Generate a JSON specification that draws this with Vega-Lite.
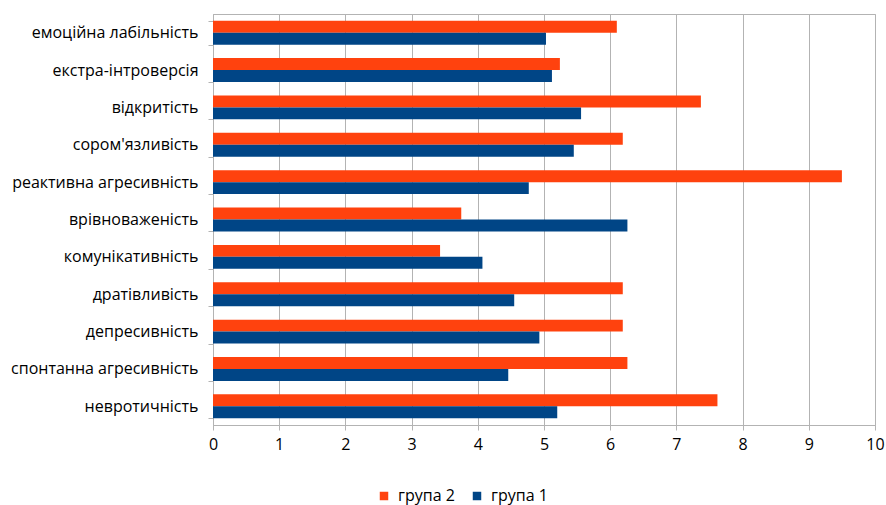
{
  "$schema": "https://vega.github.io/schema/vega-lite/v6.json",
  "width": 662,
  "height": 411,
  "autosize": {"type": "none"},
  "padding": {"left": 213, "top": 14, "right": 11, "bottom": 80},
  "background": "white",
  "config": {
    "view": {"stroke": "#b3b3b3", "strokeWidth": 1},
    "font": "Open Sans"
  },
  "data": {
    "values": [
      {"cat": "емоційна лабільність", "group": "група 2", "value": 6.10},
      {"cat": "емоційна лабільність", "group": "група 1", "value": 5.03},
      {"cat": "екстра-інтроверсія", "group": "група 2", "value": 5.24},
      {"cat": "екстра-інтроверсія", "group": "група 1", "value": 5.12},
      {"cat": "відкритість", "group": "група 2", "value": 7.37},
      {"cat": "відкритість", "group": "група 1", "value": 5.56},
      {"cat": "сором'язливість ", "group": "група 2", "value": 6.19},
      {"cat": "сором'язливість ", "group": "група 1", "value": 5.45},
      {"cat": "реактивна агресивність", "group": "група 2", "value": 9.5},
      {"cat": "реактивна агресивність", "group": "група 1", "value": 4.77},
      {"cat": "врівноваженість", "group": "група 2", "value": 3.75},
      {"cat": "врівноваженість", "group": "група 1", "value": 6.26},
      {"cat": "комунікативність", "group": "група 2", "value": 3.43},
      {"cat": "комунікативність", "group": "група 1", "value": 4.07},
      {"cat": "дратівливість", "group": "група 2", "value": 6.19},
      {"cat": "дратівливість", "group": "група 1", "value": 4.55},
      {"cat": "депресивність", "group": "група 2", "value": 6.19},
      {"cat": "депресивність", "group": "група 1", "value": 4.93},
      {"cat": "спонтанна агресивність", "group": "група 2", "value": 6.26},
      {"cat": "спонтанна агресивність", "group": "група 1", "value": 4.46},
      {"cat": "невротичність", "group": "група 2", "value": 7.62},
      {"cat": "невротичність", "group": "група 1", "value": 5.2}
    ]
  },
  "mark": {"type": "bar"},
  "encoding": {
    "y": {
      "field": "cat",
      "type": "nominal",
      "sort": null,
      "scale": {"paddingInner": 0.36, "paddingOuter": 0.18},
      "axis": {
        "title": null,
        "tickBand": "extent",
        "tickSize": 5,
        "tickColor": "#b3b3b3",
        "domainColor": "#b3b3b3",
        "labelFontSize": 16,
        "labelColor": "#000000",
        "labelPadding": 10,
        "labelLimit": 300
      }
    },
    "yOffset": {
      "field": "group",
      "type": "nominal",
      "sort": ["група 2", "група 1"],
      "scale": {"paddingInner": 0, "paddingOuter": 0}
    },
    "x": {
      "field": "value",
      "type": "quantitative",
      "scale": {"domain": [0, 10], "nice": false},
      "axis": {
        "title": null,
        "values": [0, 1, 2, 3, 4, 5, 6, 7, 8, 9, 10],
        "grid": true,
        "gridColor": "#b3b3b3",
        "tickColor": "#b3b3b3",
        "domainColor": "#b3b3b3",
        "tickSize": 5,
        "labelFontSize": 16,
        "labelColor": "#000000",
        "labelPadding": 6,
        "labelFlush": false
      }
    },
    "color": {
      "field": "group",
      "type": "nominal",
      "scale": {"domain": ["група 2", "група 1"], "range": ["#ff420e", "#004586"]},
      "legend": {
        "title": null,
        "orient": "none",
        "direction": "horizontal",
        "legendX": 163,
        "legendY": 474,
        "symbolType": "square",
        "symbolSize": 72,
        "symbolStrokeWidth": 0,
        "symbolOffset": 0,
        "labelOffset": 6,
        "labelFontSize": 16,
        "labelColor": "#000000",
        "columnPadding": 14
      }
    }
  }
}
